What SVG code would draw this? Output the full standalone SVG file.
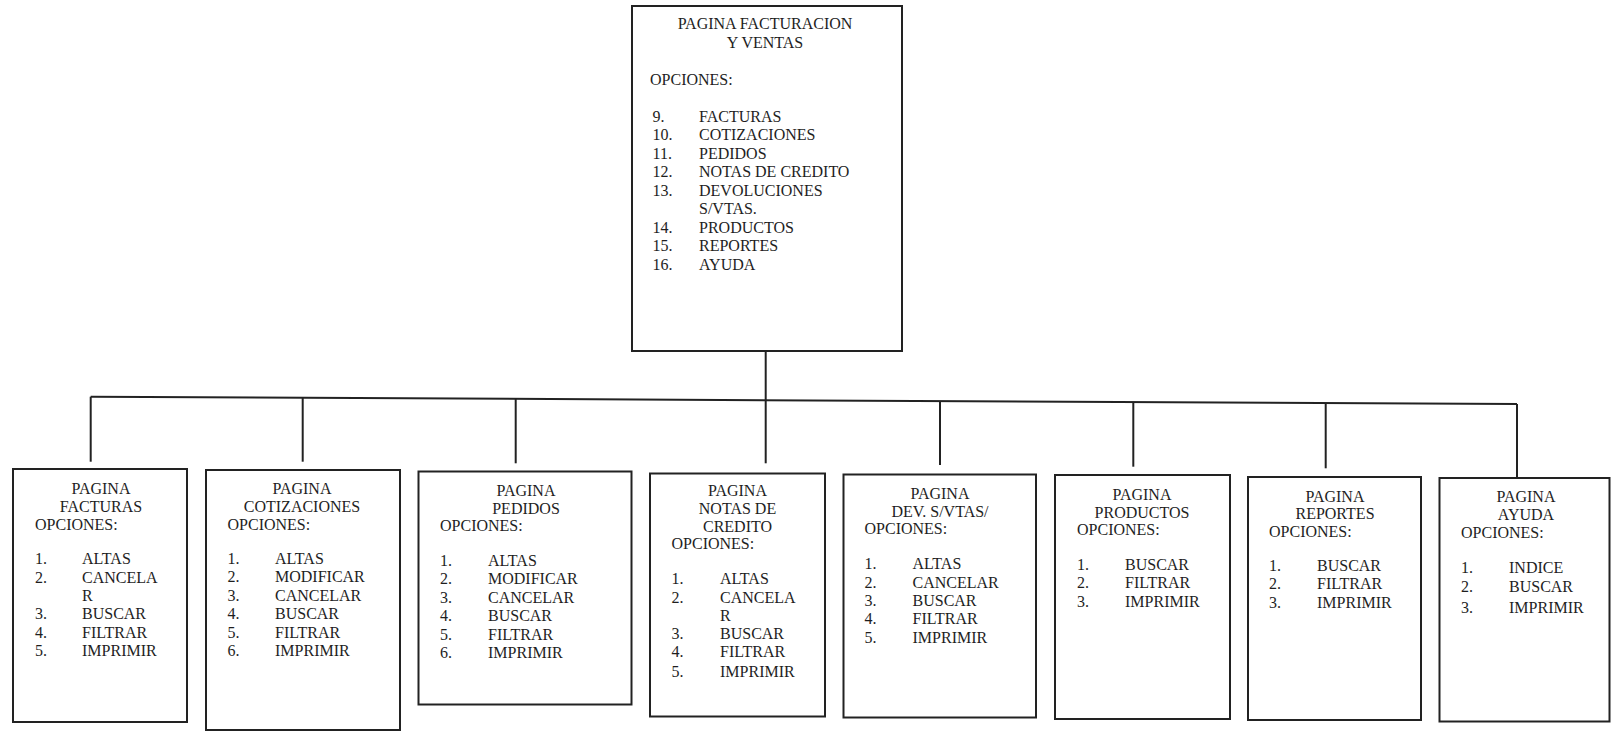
<svg xmlns="http://www.w3.org/2000/svg" width="1611" height="731" viewBox="0 0 1611 731">
<style>
.box{fill:#fff;stroke:#222;stroke-width:2}
.ln{stroke:#222;stroke-width:2;fill:none}
text{font-family:"Liberation Serif","Times New Roman",serif;font-size:16px;fill:#1e1e1e}
.c{text-anchor:middle}
</style>
<rect width="1611" height="731" fill="#fff"/>
<g id="connectors">
<line class="ln" x1="90.7" y1="396.7" x2="1517" y2="404"/>
<line class="ln" x1="90.7" y1="396.7" x2="90.7" y2="461.7"/>
<line class="ln" x1="302.7" y1="397.8" x2="302.7" y2="461.7"/>
<line class="ln" x1="515.7" y1="398.9" x2="515.7" y2="463.3"/>
<line class="ln" x1="765.7" y1="351" x2="765.7" y2="463.3"/>
<line class="ln" x1="940" y1="401" x2="940" y2="465"/>
<line class="ln" x1="1133.3" y1="402" x2="1133.3" y2="466.7"/>
<line class="ln" x1="1325.7" y1="403" x2="1325.7" y2="468.3"/>
<line class="ln" x1="1517" y1="404" x2="1517" y2="478"/>
</g>
<g id="main">
<rect class="box" x="632" y="6" width="270" height="345"/>
<text class="c" x="765" y="29">PAGINA FACTURACION</text>
<text class="c" x="765" y="48">Y VENTAS</text>
<text x="650" y="85">OPCIONES:</text>
<text x="652.5" y="121.5">9.</text><text x="699" y="121.5">FACTURAS</text>
<text x="652.5" y="140.1">10.</text><text x="699" y="140.1">COTIZACIONES</text>
<text x="652.5" y="158.6">11.</text><text x="699" y="158.6">PEDIDOS</text>
<text x="652.5" y="177.2">12.</text><text x="699" y="177.2">NOTAS DE CREDITO</text>
<text x="652.5" y="195.7">13.</text><text x="699" y="195.7">DEVOLUCIONES</text>
<text x="699" y="214.3">S/VTAS.</text>
<text x="652.5" y="232.9">14.</text><text x="699" y="232.9">PRODUCTOS</text>
<text x="652.5" y="251.4">15.</text><text x="699" y="251.4">REPORTES</text>
<text x="652.5" y="270">16.</text><text x="699" y="270">AYUDA</text>
</g>
<g id="facturas">
<rect class="box" x="13" y="469" width="174" height="253"/>
<text class="c" x="101" y="494">PAGINA</text>
<text class="c" x="101" y="512">FACTURAS</text>
<text x="35" y="529.5">OPCIONES:</text>
<text x="35" y="564">1.</text><text x="82" y="564">ALTAS</text>
<text x="35" y="582.5">2.</text><text x="82" y="582.5">CANCELA</text>
<text x="82" y="601">R</text>
<text x="35" y="619">3.</text><text x="82" y="619">BUSCAR</text>
<text x="35" y="637.5">4.</text><text x="82" y="637.5">FILTRAR</text>
<text x="35" y="656">5.</text><text x="82" y="656">IMPRIMIR</text>
</g>
<g id="cotizaciones">
<rect class="box" x="206" y="470" width="194" height="260"/>
<text class="c" x="302" y="494">PAGINA</text>
<text class="c" x="302" y="512">COTIZACIONES</text>
<text x="227.5" y="529.5">OPCIONES:</text>
<text x="227.5" y="564">1.</text><text x="275" y="564">ALTAS</text>
<text x="227.5" y="582.4">2.</text><text x="275" y="582.4">MODIFICAR</text>
<text x="227.5" y="600.8">3.</text><text x="275" y="600.8">CANCELAR</text>
<text x="227.5" y="619.2">4.</text><text x="275" y="619.2">BUSCAR</text>
<text x="227.5" y="637.6">5.</text><text x="275" y="637.6">FILTRAR</text>
<text x="227.5" y="656">6.</text><text x="275" y="656">IMPRIMIR</text>
</g>
<g id="pedidos">
<rect class="box" x="418.5" y="471.5" width="213" height="233"/>
<text class="c" x="526" y="496">PAGINA</text>
<text class="c" x="526" y="513.5">PEDIDOS</text>
<text x="440" y="531">OPCIONES:</text>
<text x="440" y="566">1.</text><text x="488" y="566">ALTAS</text>
<text x="440" y="584.4">2.</text><text x="488" y="584.4">MODIFICAR</text>
<text x="440" y="602.8">3.</text><text x="488" y="602.8">CANCELAR</text>
<text x="440" y="621.2">4.</text><text x="488" y="621.2">BUSCAR</text>
<text x="440" y="639.6">5.</text><text x="488" y="639.6">FILTRAR</text>
<text x="440" y="658">6.</text><text x="488" y="658">IMPRIMIR</text>
</g>
<g id="notas">
<rect class="box" x="650" y="473.5" width="175" height="243"/>
<text class="c" x="737.5" y="496">PAGINA</text>
<text class="c" x="737.5" y="514">NOTAS DE</text>
<text class="c" x="737.5" y="531.5">CREDITO</text>
<text x="671.5" y="549">OPCIONES:</text>
<text x="671.5" y="584">1.</text><text x="720" y="584">ALTAS</text>
<text x="671.5" y="602.5">2.</text><text x="720" y="602.5">CANCELA</text>
<text x="720" y="620.5">R</text>
<text x="671.5" y="639">3.</text><text x="720" y="639">BUSCAR</text>
<text x="671.5" y="657">4.</text><text x="720" y="657">FILTRAR</text>
<text x="671.5" y="677">5.</text><text x="720" y="677">IMPRIMIR</text>
</g>
<g id="devoluciones">
<rect class="box" x="843.5" y="474.5" width="192.5" height="243"/>
<text class="c" x="940" y="499">PAGINA</text>
<text class="c" x="940" y="517">DEV. S/VTAS/</text>
<text x="864.5" y="534">OPCIONES:</text>
<text x="864.5" y="569">1.</text><text x="912.5" y="569">ALTAS</text>
<text x="864.5" y="587.5">2.</text><text x="912.5" y="587.5">CANCELAR</text>
<text x="864.5" y="605.5">3.</text><text x="912.5" y="605.5">BUSCAR</text>
<text x="864.5" y="624">4.</text><text x="912.5" y="624">FILTRAR</text>
<text x="864.5" y="643">5.</text><text x="912.5" y="643">IMPRIMIR</text>
</g>
<g id="productos">
<rect class="box" x="1055" y="475" width="175" height="244"/>
<text class="c" x="1142" y="500">PAGINA</text>
<text class="c" x="1142" y="518">PRODUCTOS</text>
<text x="1077" y="535">OPCIONES:</text>
<text x="1077" y="570">1.</text><text x="1125" y="570">BUSCAR</text>
<text x="1077" y="588">2.</text><text x="1125" y="588">FILTRAR</text>
<text x="1077" y="606.5">3.</text><text x="1125" y="606.5">IMPRIMIR</text>
</g>
<g id="reportes">
<rect class="box" x="1248" y="477" width="173" height="243"/>
<text class="c" x="1335" y="501.5">PAGINA</text>
<text class="c" x="1335" y="519">REPORTES</text>
<text x="1269" y="537">OPCIONES:</text>
<text x="1269" y="571">1.</text><text x="1317" y="571">BUSCAR</text>
<text x="1269" y="589">2.</text><text x="1317" y="589">FILTRAR</text>
<text x="1269" y="607.5">3.</text><text x="1317" y="607.5">IMPRIMIR</text>
</g>
<g id="ayuda">
<rect class="box" x="1439.5" y="478" width="170" height="243.5"/>
<text class="c" x="1526" y="502">PAGINA</text>
<text class="c" x="1526" y="520">AYUDA</text>
<text x="1461" y="537.5">OPCIONES:</text>
<text x="1461" y="572.5">1.</text><text x="1509" y="572.5">INDICE</text>
<text x="1461" y="591.5">2.</text><text x="1509" y="591.5">BUSCAR</text>
<text x="1461" y="612.5">3.</text><text x="1509" y="612.5">IMPRIMIR</text>
</g>
</svg>
